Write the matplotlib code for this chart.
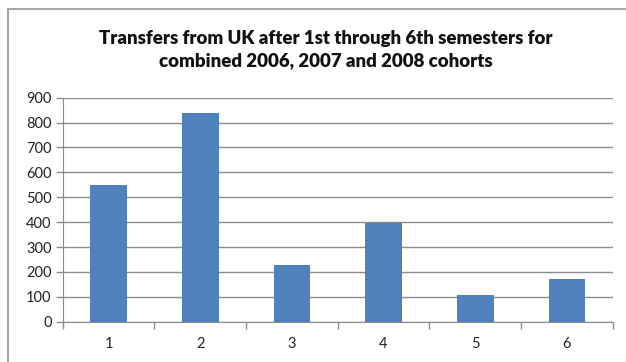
import numpy as np
import matplotlib.pyplot as plt
from matplotlib.lines import Line2D

# Values
semesters = ['1', '2', '3', '4', '5', '6']
transfers = [548, 840, 227, 396, 106, 171]
y_ticks = [0, 100, 200, 300, 400, 500, 600, 700, 800, 900]

title = 'Transfers from UK after 1st through 6th semesters for\ncombined 2006, 2007 and 2008 cohorts'

plt.rcParams['font.family'] = ['Lato', 'DejaVu Sans']

fig = plt.figure(figsize=(6.26, 3.62), dpi=100)
ax = fig.add_axes([0.1002, 0.1113, 0.8786, 0.6188])

x = np.arange(len(semesters))
ax.bar(x, transfers, width=0.4, color='#4F81BD', zorder=3)

ax.set_xlim(-0.5, len(semesters) - 0.5)
ax.set_ylim(0, 900)
ax.set_yticks(y_ticks)
ax.yaxis.grid(True, color='#8C8C8C', linewidth=1.0, zorder=0)

# category labels centred, tick marks on category boundaries
ax.set_xticks(x)
ax.set_xticklabels(semesters)
ax.tick_params(axis='x', length=0, pad=11, labelsize=10.5, labelcolor='#222222')
ax.set_xticks(np.arange(len(semesters) + 1) - 0.5, minor=True)
ax.tick_params(axis='x', which='minor', length=5, color='#8C8C8C', width=1)
ax.tick_params(axis='y', length=5, color='#8C8C8C', width=1, pad=3,
               labelsize=10.5, labelcolor='#222222')

for side in ['top', 'right']:
    ax.spines[side].set_visible(False)
ax.spines['left'].set_color('#8C8C8C')
ax.spines['bottom'].set_color('#8C8C8C')

fig.text(0.521, 0.864, title, ha='center', va='center', fontsize=13.4,
         fontweight='heavy', linespacing=1.35, color='#111111')

# chart border (only top and left visible in the crop)
fig.add_artist(Line2D([8 / 626, 1], [1 - 9 / 362, 1 - 9 / 362],
                      transform=fig.transFigure, color='#A6A6A6', linewidth=1.5))
fig.add_artist(Line2D([8 / 626, 8 / 626], [0, 1 - 9 / 362],
                      transform=fig.transFigure, color='#A6A6A6', linewidth=1.5))

fig.savefig('out.png', dpi=100)
